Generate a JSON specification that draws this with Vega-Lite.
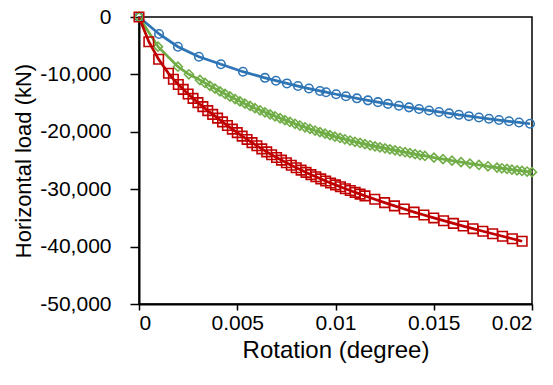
{
  "$schema": "https://vega.github.io/schema/vega-lite/v6.json",
  "width": 393,
  "height": 287,
  "autosize": "none",
  "padding": {"left": 139, "top": 17, "right": 21, "bottom": 81},
  "background": "white",
  "config": {
    "font": "Liberation Sans",
    "view": {"stroke": "#000000", "strokeWidth": 1.5},
    "axis": {
      "grid": false,
      "domainColor": "#000000",
      "domainWidth": 2,
      "tickColor": "#000000",
      "tickWidth": 1.5,
      "labelColor": "#000000",
      "titleColor": "#000000",
      "labelFont": "Liberation Sans",
      "titleFont": "Liberation Sans",
      "labelFontSize": 21,
      "titleFontSize": 22,
      "titleFontWeight": "normal"
    }
  },
  "data": {"values": [
    {"s": "A", "x": 0, "y": 0},
    {"s": "A", "x": 0.00102, "y": -2961},
    {"s": "A", "x": 0.00198, "y": -5174},
    {"s": "A", "x": 0.00305, "y": -6916},
    {"s": "A", "x": 0.00417, "y": -8240},
    {"s": "A", "x": 0.00529, "y": -9529},
    {"s": "A", "x": 0.00641, "y": -10597},
    {"s": "A", "x": 0.00697, "y": -11097},
    {"s": "A", "x": 0.00753, "y": -11574},
    {"s": "A", "x": 0.00809, "y": -12030},
    {"s": "A", "x": 0.00865, "y": -12466},
    {"s": "A", "x": 0.00921, "y": -12882},
    {"s": "A", "x": 0.00952, "y": -13103},
    {"s": "A", "x": 0.01003, "y": -13459},
    {"s": "A", "x": 0.01053, "y": -13802},
    {"s": "A", "x": 0.01109, "y": -14168},
    {"s": "A", "x": 0.01165, "y": -14523},
    {"s": "A", "x": 0.01216, "y": -14835},
    {"s": "A", "x": 0.01267, "y": -15136},
    {"s": "A", "x": 0.01323, "y": -15460},
    {"s": "A", "x": 0.01374, "y": -15744},
    {"s": "A", "x": 0.01425, "y": -16019},
    {"s": "A", "x": 0.01476, "y": -16286},
    {"s": "A", "x": 0.01527, "y": -16544},
    {"s": "A", "x": 0.01578, "y": -16796},
    {"s": "A", "x": 0.01628, "y": -17040},
    {"s": "A", "x": 0.01679, "y": -17279},
    {"s": "A", "x": 0.0173, "y": -17509},
    {"s": "A", "x": 0.01781, "y": -17734},
    {"s": "A", "x": 0.01832, "y": -17953},
    {"s": "A", "x": 0.01883, "y": -18165},
    {"s": "A", "x": 0.01934, "y": -18375},
    {"s": "A", "x": 0.0199, "y": -18599},

    {"s": "B", "x": 0, "y": 0},
    {"s": "B", "x": 0.00097, "y": -5170},
    {"s": "B", "x": 0.00198, "y": -8660},
    {"s": "B", "x": 0.00254, "y": -9980},
    {"s": "B", "x": 0.0031, "y": -10975},
    {"s": "B", "x": 0.00336, "y": -11490},
    {"s": "B", "x": 0.00361, "y": -11990},
    {"s": "B", "x": 0.00387, "y": -12480},
    {"s": "B", "x": 0.00412, "y": -12950},
    {"s": "B", "x": 0.00438, "y": -13410},
    {"s": "B", "x": 0.00463, "y": -13850},
    {"s": "B", "x": 0.00489, "y": -14290},
    {"s": "B", "x": 0.00514, "y": -14700},
    {"s": "B", "x": 0.00539, "y": -15100},
    {"s": "B", "x": 0.00565, "y": -15500},
    {"s": "B", "x": 0.0059, "y": -15880},
    {"s": "B", "x": 0.00616, "y": -16250},
    {"s": "B", "x": 0.00641, "y": -16610},
    {"s": "B", "x": 0.00667, "y": -16960},
    {"s": "B", "x": 0.00692, "y": -17300},
    {"s": "B", "x": 0.00718, "y": -17640},
    {"s": "B", "x": 0.00743, "y": -17970},
    {"s": "B", "x": 0.00768, "y": -18290},
    {"s": "B", "x": 0.00794, "y": -18600},
    {"s": "B", "x": 0.00819, "y": -18910},
    {"s": "B", "x": 0.00845, "y": -19210},
    {"s": "B", "x": 0.0087, "y": -19500},
    {"s": "B", "x": 0.00896, "y": -19780},
    {"s": "B", "x": 0.00921, "y": -20060},
    {"s": "B", "x": 0.00947, "y": -20320},
    {"s": "B", "x": 0.00972, "y": -20580},
    {"s": "B", "x": 0.00997, "y": -20830},
    {"s": "B", "x": 0.01023, "y": -21070},
    {"s": "B", "x": 0.01048, "y": -21300},
    {"s": "B", "x": 0.01074, "y": -21520},
    {"s": "B", "x": 0.01099, "y": -21740},
    {"s": "B", "x": 0.01125, "y": -21950},
    {"s": "B", "x": 0.0115, "y": -22150},
    {"s": "B", "x": 0.01176, "y": -22350},
    {"s": "B", "x": 0.01201, "y": -22530},
    {"s": "B", "x": 0.01226, "y": -22710},
    {"s": "B", "x": 0.01252, "y": -22880},
    {"s": "B", "x": 0.01277, "y": -23060},
    {"s": "B", "x": 0.01303, "y": -23230},
    {"s": "B", "x": 0.01328, "y": -23390},
    {"s": "B", "x": 0.01354, "y": -23560},
    {"s": "B", "x": 0.01379, "y": -23720},
    {"s": "B", "x": 0.01405, "y": -23890},
    {"s": "B", "x": 0.0143, "y": -24050},
    {"s": "B", "x": 0.01455, "y": -24210},
    {"s": "B", "x": 0.01501, "y": -24490},
    {"s": "B", "x": 0.01547, "y": -24770},
    {"s": "B", "x": 0.01593, "y": -25030},
    {"s": "B", "x": 0.01639, "y": -25290},
    {"s": "B", "x": 0.01684, "y": -25540},
    {"s": "B", "x": 0.0173, "y": -25780},
    {"s": "B", "x": 0.01776, "y": -26010},
    {"s": "B", "x": 0.01822, "y": -26240},
    {"s": "B", "x": 0.01847, "y": -26360},
    {"s": "B", "x": 0.01873, "y": -26470},
    {"s": "B", "x": 0.01898, "y": -26590},
    {"s": "B", "x": 0.01924, "y": -26710},
    {"s": "B", "x": 0.01949, "y": -26820},
    {"s": "B", "x": 0.01975, "y": -26920},
    {"s": "B", "x": 0.02, "y": -27030},

    {"s": "C", "x": 0, "y": 0},
    {"s": "C", "x": 0.0005, "y": -4303},
    {"s": "C", "x": 0.001, "y": -7369},
    {"s": "C", "x": 0.0015, "y": -9807},
    {"s": "C", "x": 0.00175, "y": -10835},
    {"s": "C", "x": 0.002, "y": -11750},
    {"s": "C", "x": 0.00225, "y": -12603},
    {"s": "C", "x": 0.0025, "y": -13408},
    {"s": "C", "x": 0.00275, "y": -14173},
    {"s": "C", "x": 0.003, "y": -14910},
    {"s": "C", "x": 0.00325, "y": -15620},
    {"s": "C", "x": 0.0035, "y": -16305},
    {"s": "C", "x": 0.00375, "y": -16967},
    {"s": "C", "x": 0.004, "y": -17620},
    {"s": "C", "x": 0.00425, "y": -18277},
    {"s": "C", "x": 0.0045, "y": -18908},
    {"s": "C", "x": 0.00475, "y": -19528},
    {"s": "C", "x": 0.005, "y": -20138},
    {"s": "C", "x": 0.00525, "y": -20747},
    {"s": "C", "x": 0.0055, "y": -21329},
    {"s": "C", "x": 0.00575, "y": -21893},
    {"s": "C", "x": 0.006, "y": -22440},
    {"s": "C", "x": 0.00625, "y": -22972},
    {"s": "C", "x": 0.0065, "y": -23496},
    {"s": "C", "x": 0.00675, "y": -23994},
    {"s": "C", "x": 0.007, "y": -24475},
    {"s": "C", "x": 0.00725, "y": -24938},
    {"s": "C", "x": 0.0075, "y": -25390},
    {"s": "C", "x": 0.00775, "y": -25829},
    {"s": "C", "x": 0.008, "y": -26252},
    {"s": "C", "x": 0.00825, "y": -26673},
    {"s": "C", "x": 0.0085, "y": -27074},
    {"s": "C", "x": 0.00875, "y": -27461},
    {"s": "C", "x": 0.009, "y": -27837},
    {"s": "C", "x": 0.00925, "y": -28199},
    {"s": "C", "x": 0.0095, "y": -28560},
    {"s": "C", "x": 0.00975, "y": -28908},
    {"s": "C", "x": 0.01, "y": -29250},
    {"s": "C", "x": 0.01025, "y": -29584},
    {"s": "C", "x": 0.0105, "y": -29914},
    {"s": "C", "x": 0.01075, "y": -30238},
    {"s": "C", "x": 0.011, "y": -30560},
    {"s": "C", "x": 0.01125, "y": -30858},
    {"s": "C", "x": 0.0115, "y": -31163},
    {"s": "C", "x": 0.012, "y": -31760},
    {"s": "C", "x": 0.0125, "y": -32342},
    {"s": "C", "x": 0.013, "y": -32910},
    {"s": "C", "x": 0.0135, "y": -33459},
    {"s": "C", "x": 0.014, "y": -33988},
    {"s": "C", "x": 0.0145, "y": -34502},
    {"s": "C", "x": 0.015, "y": -35005},
    {"s": "C", "x": 0.0155, "y": -35486},
    {"s": "C", "x": 0.016, "y": -35957},
    {"s": "C", "x": 0.0165, "y": -36420},
    {"s": "C", "x": 0.017, "y": -36878},
    {"s": "C", "x": 0.0175, "y": -37322},
    {"s": "C", "x": 0.018, "y": -37763},
    {"s": "C", "x": 0.0185, "y": -38200},
    {"s": "C", "x": 0.019, "y": -38636},
    {"s": "C", "x": 0.0195, "y": -39064}
  ]},
  "encoding": {
    "x": {
      "field": "x", "type": "quantitative",
      "scale": {"domain": [0, 0.02], "nice": false, "zero": false},
      "axis": {
        "title": "Rotation (degree)",
        "titleFontSize": 24,
        "values": [0, 0.005, 0.01, 0.015, 0.02],
        "format": "~g",
        "tickSize": 6,
        "labelPadding": 2,
        "titlePadding": 5
      }
    },
    "y": {
      "field": "y", "type": "quantitative",
      "scale": {"domain": [-50000, 0], "nice": false},
      "axis": {
        "title": "Horizontal load (kN)",
        "values": [0, -10000, -20000, -30000, -40000, -50000],
        "labelExpr": "replace(format(datum.value, ','), '\u2212', '-')",
        "tickSize": 9,
        "labelPadding": 19,
        "titlePadding": 4
      }
    },
    "color": {
      "field": "s", "type": "nominal",
      "scale": {"domain": ["A", "B", "C"], "range": ["#2E75B6", "#70AD47", "#C00000"]},
      "legend": null
    }
  },
  "layer": [
    {
      "mark": {"type": "line", "strokeWidth": 2.75},
      "encoding": {"detail": {"field": "s"}}
    },
    {
      "mark": {"type": "point", "filled": false, "strokeWidth": 1.6, "opacity": 1},
      "encoding": {
        "shape": {
          "field": "s", "type": "nominal",
          "scale": {"domain": ["A", "B", "C"], "range": ["circle", "diamond", "square"]},
          "legend": null
        },
        "size": {
          "field": "s", "type": "nominal",
          "scale": {"domain": ["A", "B", "C"], "range": [72, 90, 72]},
          "legend": null
        }
      }
    }
  ]
}
